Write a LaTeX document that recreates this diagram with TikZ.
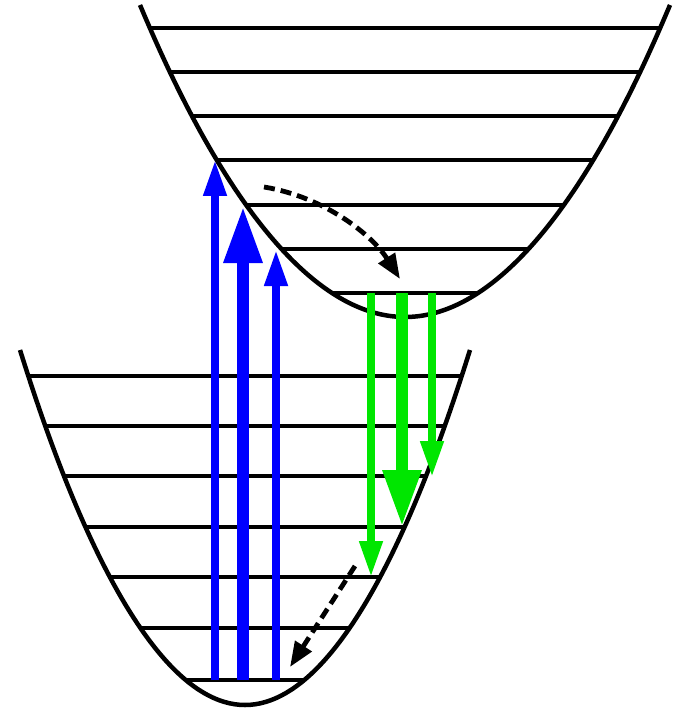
\documentclass[tikz,border=0pt]{standalone}
\usetikzlibrary{arrows.meta}
\definecolor{vblue}{RGB}{0,0,255}
\definecolor{vgreen}{RGB}{0,230,0}
\begin{document}
\begin{tikzpicture}[x=1pt,y=-1pt,
  well/.style={line width=4.5pt,black},
  level/.style={line width=4.5pt,black},
  thinarrow/.style={line width=7.5pt,-{Triangle[length=36pt,width=22pt]}},
  thickarrow/.style={line width=12pt,-{Triangle[length=57pt,width=36pt]}},
  relax/.style={line width=4.8pt,black,dash pattern=on 11pt off 6pt,-{Triangle[length=25pt,width=19pt]}}]
\useasboundingbox (0,0) rectangle (674,711);
% lower potential well
\draw[well] (20,350) parabola bend (245,705) (470,350);
\foreach \y in {376,426,476,527,577,628,680}{
  \pgfmathsetmacro\dx{225*sqrt((705-\y)/355)}
  \draw[level] ({245-\dx},\y) -- ({245+\dx},\y);
}
% upper potential well
\draw[well] (140,5) parabola bend (405,317) (670,5);
\foreach \y in {28,72,116,160,205,249,293}{
  \pgfmathsetmacro\dx{265*sqrt((317-\y)/312)}
  \draw[level] ({405-\dx},\y) -- ({405+\dx},\y);
}
% coordinates
\coordinate (b1s) at (215,680); \coordinate (b1e) at (215,160);
\coordinate (b2s) at (243,680); \coordinate (b2e) at (243,206);
\coordinate (b3s) at (276,680); \coordinate (b3e) at (276,250);
\coordinate (g1s) at (371,293); \coordinate (g1e) at (371,577);
\coordinate (g2s) at (402,293); \coordinate (g2e) at (402,527);
\coordinate (g3s) at (432,293); \coordinate (g3e) at (432,477);
\coordinate (d1s) at (264,187); \coordinate (d1e) at (400,279);
\coordinate (d2s) at (355,566); \coordinate (d2e) at (290,667);
% absorption
\draw[thinarrow,vblue] (b1s) -- (b1e);
\draw[thickarrow,vblue] (b2s) -- (b2e);
\draw[thinarrow,vblue] (b3s) -- (b3e);
% emission
\draw[thinarrow,vgreen] (g1s) -- (g1e);
\draw[thickarrow,vgreen] (g2s) -- (g2e);
\draw[thinarrow,vgreen] (g3s) -- (g3e);
% relaxation
\draw[relax] (d1s) .. controls (325,197) and (372,235) .. (d1e);
\draw[relax] (d2s) -- (d2e);
\end{tikzpicture}
\end{document}
